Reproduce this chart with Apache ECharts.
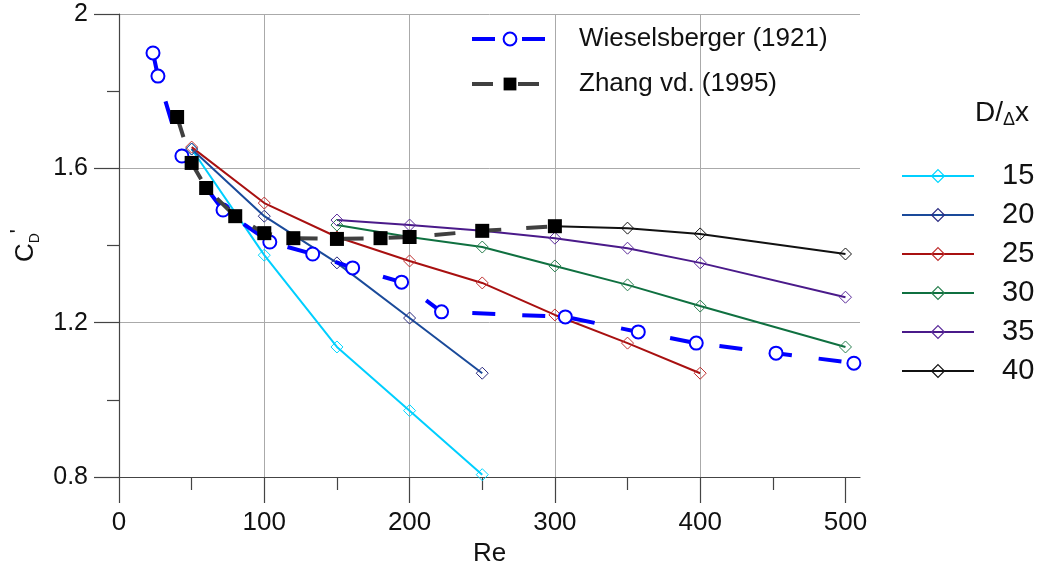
<!DOCTYPE html>
<html>
<head>
<meta charset="utf-8">
<script src="https://cdn.jsdelivr.net/npm/echarts@6/dist/echarts.min.js"></script>
<style>
  html, body { margin: 0; padding: 0; background: #fff; }
  #chart { width: 1064px; height: 574px; }
</style>
</head>
<body>
<div id="chart"></div>
<script>
// ---- data ----
const xTickValues = [0, 100, 200, 300, 400, 500];

const wieselRe = [23.4, 26.8, 43.3, 71.6, 103.8, 133.3, 160.8, 194.5, 222, 307.2, 357.4, 397.3, 452.2, 505.8];
const wieselCd = [1.899, 1.839, 1.632, 1.492, 1.409, 1.378, 1.342, 1.305, 1.228, 1.215, 1.176, 1.147, 1.121, 1.095];

const zhangRe = [40, 50, 60, 80, 100, 120, 150, 180, 200, 250, 300];
const zhangCd = [1.733, 1.614, 1.549, 1.476, 1.432, 1.419, 1.417, 1.419, 1.422, 1.438, 1.450];

const re15 = [50, 100, 150, 200, 250];
const cd15 = [1.65, 1.375, 1.137, 0.972, 0.806];
const re20 = [50, 100, 150, 200, 250];
const cd20 = [1.65, 1.476, 1.355, 1.212, 1.069];
const re25 = [50, 100, 150, 200, 250, 300, 350, 400];
const cd25 = [1.655, 1.51, 1.422, 1.36, 1.303, 1.22, 1.147, 1.069];
const re30 = [150, 200, 250, 300, 350, 400, 500];
const cd30 = [1.453, 1.422, 1.396, 1.347, 1.298, 1.243, 1.137];
const re35 = [150, 200, 250, 300, 350, 400, 500];
const cd35 = [1.466, 1.453, 1.438, 1.419, 1.393, 1.355, 1.266];
const re40 = [300, 350, 400, 500];
const cd40 = [1.45, 1.445, 1.43, 1.378];

const resNames = ['15', '20', '25', '30', '35', '40'];
const resRe = [re15, re20, re25, re30, re35, re40];
const resCd = [cd15, cd20, cd25, cd30, cd35, cd40];
const resLineColors = ['#00cfff', '#1a4a9a', '#a81010', '#0f7040', '#4a1a8a', '#111111'];
const resMarkColors = ['#00d8ff', '#2a2a80', '#c03030', '#2a8050', '#5a2a9a', '#111111'];

// ---- build ----
const FONT = "'Liberation Sans', Arial, sans-serif";
const zip = (a, b) => a.map((v, i) => [v, b[i]]);

const series = resNames.map((n, i) => ({
  name: n,
  type: 'line',
  data: zip(resRe[i], resCd[i]),
  symbol: 'diamond',
  symbolSize: 12,
  lineStyle: { color: resLineColors[i], width: 2 },
  itemStyle: { color: 'rgba(255,255,255,0)', borderColor: resMarkColors[i], borderWidth: 1 },
  emphasis: { disabled: true },
  z: 2
}));

series.push({
  name: 'Wieselsberger (1921)',
  type: 'line',
  data: zip(wieselRe, wieselCd),
  symbol: 'emptyCircle',
  symbolSize: 13,
  lineStyle: { color: '#0000ff', width: 4, type: [23, 27] },
  itemStyle: { color: '#0000ff', borderWidth: 1.5 },
  emphasis: { disabled: true },
  z: 3
});
series.push({
  name: 'Zhang vd. (1995)',
  type: 'line',
  data: zip(zhangRe, zhangCd),
  symbol: 'rect',
  symbolSize: 14,
  lineStyle: { color: '#404040', width: 4, type: [21, 25] },
  itemStyle: { color: '#000000' },
  emphasis: { disabled: true },
  z: 4
});

const axisColor = '#444';
const gridColor = '#aaaaaa';

const option = {
  animation: false,
  backgroundColor: '#ffffff',
  textStyle: { fontFamily: FONT },
  grid: { left: 119, right: 204, top: 14, bottom: 97, containLabel: false },
  xAxis: {
    type: 'value',
    min: 0, max: 510, interval: 100,
    name: 'Re',
    nameLocation: 'middle',
    nameGap: 57,
    nameTextStyle: { fontSize: 26, color: '#111', fontFamily: FONT },
    axisLine: { show: true, onZero: false, lineStyle: { color: axisColor, width: 1.2 } },
    axisTick: { show: true, length: 26, customValues: xTickValues, lineStyle: { color: axisColor, width: 1.2 } },
    minorTick: { show: true, splitNumber: 2, length: 13, lineStyle: { color: axisColor, width: 1.2 } },
    axisLabel: { customValues: xTickValues, margin: 33, fontSize: 26, color: '#111', fontFamily: FONT },
    splitLine: { show: true, showMaxLine: false, lineStyle: { color: gridColor, width: 1 } },
    minorSplitLine: { show: false }
  },
  yAxis: {
    type: 'value',
    min: 0.8, max: 2.0, interval: 0.4,
    name: '{c|C}{d|D}{p|\'}',
    nameLocation: 'middle',
    nameRotate: 90,
    nameGap: 76,
    nameTextStyle: {
      color: '#111', fontFamily: FONT,
      rich: {
        c: { fontSize: 26, lineHeight: 34, fontFamily: FONT, color: '#111' },
        d: { fontSize: 14, lineHeight: 14, verticalAlign: 'bottom', fontFamily: FONT, color: '#111' },
        p: { fontSize: 22, lineHeight: 22, verticalAlign: 'top', fontFamily: FONT, color: '#111' }
      }
    },
    axisLine: { show: true, onZero: false, lineStyle: { color: axisColor, width: 1.2 } },
    axisTick: { show: true, length: 25, lineStyle: { color: axisColor, width: 1.2 } },
    minorTick: { show: true, splitNumber: 2, length: 12, lineStyle: { color: axisColor, width: 1.2 } },
    axisLabel: { margin: 31, fontSize: 25, color: '#111', fontFamily: FONT },
    splitLine: { show: true, lineStyle: { color: gridColor, width: 1 } }
  },
  legend: [
    {
      data: ['Wieselsberger (1921)', 'Zhang vd. (1995)'],
      orient: 'vertical',
      left: 465, top: 19,
      itemWidth: 76, itemHeight: 16, itemGap: 15,
      selectedMode: false,
      itemStyle: { borderWidth: 0 },
      lineStyle: { width: 4 },
      textStyle: { fontSize: 26, lineHeight: 30, color: '#111', fontFamily: FONT, padding: [0, 0, 0, 26] }
    },
    {
      data: resNames,
      orient: 'vertical',
      left: 896, top: 155,
      itemWidth: 72, itemHeight: 16, itemGap: 7,
      selectedMode: false,
      itemStyle: { borderWidth: 1.2 },
      lineStyle: { width: 2 },
      textStyle: { fontSize: 29, lineHeight: 32, color: '#111', fontFamily: FONT, padding: [0, 0, 0, 23] }
    }
  ],
  graphic: [
    {
      type: 'text',
      left: 975, top: 99,
      style: {
        text: '{a|D/}{b|Δ}{a|x}',
        rich: {
          a: { fontSize: 28, lineHeight: 32, fontFamily: FONT, fill: '#111' },
          b: { fontSize: 18, lineHeight: 29, verticalAlign: 'bottom', fontFamily: FONT, fill: '#111' }
        }
      }
    }
  ],
  series: series
};

const chart = echarts.init(document.getElementById('chart'), null, { renderer: 'canvas' });
chart.setOption(option);
</script>
</body>
</html>
